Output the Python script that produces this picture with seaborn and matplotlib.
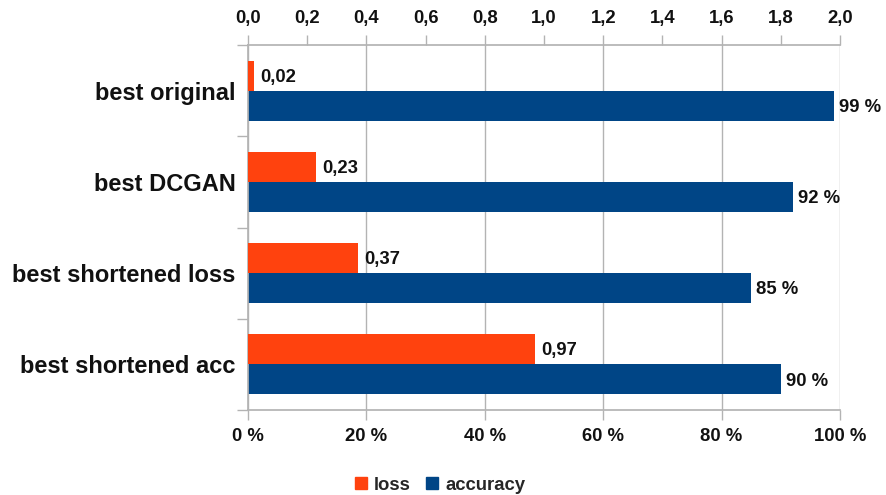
import matplotlib
matplotlib.use("Agg")
import matplotlib.pyplot as plt
import matplotlib.patches as mpatches
import numpy as np
import pandas as pd
import seaborn as sns

categories = ["best original", "best DCGAN", "best shortened loss", "best shortened acc"]
loss = [0.02, 0.23, 0.37, 0.97]
accuracy = [99, 92, 85, 90]
series = ["loss", "accuracy"]
loss_ticks = [0.0, 0.2, 0.4, 0.6, 0.8, 1.0, 1.2, 1.4, 1.6, 1.8, 2.0]
acc_ticks = [0, 20, 40, 60, 80, 100]

colors = {"loss": "#ff420e", "accuracy": "#004586"}
grid_grey = "#b3b3b3"
text_color = "#111111"
small = 13.3
big = 17

sns.set_theme(style="white")
plt.rcParams["font.family"] = ["Liberation Sans", "DejaVu Sans"]
plt.rcParams["font.weight"] = "bold"

df = pd.DataFrame({
    "category": categories * 2,
    "series": ["loss"] * len(categories) + ["accuracy"] * len(categories),
    "value": list(loss) + list(accuracy),
})
df_acc = df.copy()
df_acc.loc[df_acc["series"] == "loss", "value"] = np.nan
df_loss = df.copy()
df_loss.loc[df_loss["series"] == "accuracy", "value"] = np.nan

fig = plt.figure(figsize=(8.86, 4.95), dpi=100)
ax = fig.add_axes([248 / 886, 1 - 410 / 495, (840 - 248) / 886, (410 - 45) / 495])
ax2 = ax.twiny()

sns.barplot(data=df_acc, x="value", y="category", hue="series", hue_order=series,
            order=categories, palette=colors, width=0.66, orient="h",
            saturation=1, ax=ax, legend=False, linewidth=0)
sns.barplot(data=df_loss, x="value", y="category", hue="series", hue_order=series,
            order=categories, palette=colors, width=0.66, orient="h",
            saturation=1, ax=ax2, legend=False, linewidth=0)

ax.set_xlim(0, 100)
ax2.set_xlim(0, 2.0)
ax.set_ylim(3.5, -0.5)

# accuracy axis (bottom)
ax.set_xticks(acc_ticks)
ax.set_xticklabels([f"{t} %" for t in acc_ticks], fontsize=small, fontweight="bold")
ax.xaxis.grid(True, color=grid_grey, linewidth=1)
ax.set_axisbelow(True)
ax.tick_params(axis="x", bottom=True, direction="out", length=7, width=1,
               color=grid_grey, pad=6, labelcolor=text_color)

# loss axis (top)
ax2.set_xticks(loss_ticks)
ax2.set_xticklabels([f"{t:.1f}".replace(".", ",") for t in loss_ticks],
                    fontsize=small, fontweight="bold")
ax2.tick_params(axis="x", top=True, direction="out", length=7, width=1,
                color=grid_grey, pad=6, labelcolor=text_color)
ax2.grid(False)

# category axis: separators as major ticks, names as minor ticks
ax.set_yticks([-0.5, 0.5, 1.5, 2.5, 3.5])
ax.set_yticklabels([])
ax.set_yticks(range(len(categories)), minor=True)
ax.set_yticklabels(categories, minor=True, fontsize=big, fontweight="bold")
ax.tick_params(axis="y", which="major", left=True, direction="out", length=8,
               width=1, color=grid_grey)
ax.tick_params(axis="y", which="minor", left=True, length=0, pad=9,
               labelcolor=text_color)

ax.set_xlabel("")
ax.set_ylabel("")
ax2.set_xlabel("")
ax2.set_ylabel("")

for a in (ax, ax2):
    for s in a.spines.values():
        s.set_visible(False)
ax.spines["left"].set_visible(True)
ax.spines["left"].set_color(grid_grey)
ax.spines["bottom"].set_visible(True)
ax.spines["bottom"].set_color(grid_grey)
ax2.spines["top"].set_visible(True)
ax2.spines["top"].set_color(grid_grey)

# value labels beside each bar end
for i, v in enumerate(loss):
    ax2.annotate(f"{v:.2f}".replace(".", ","), xy=(v, i - 0.165), xytext=(4.5, -1.2),
                 textcoords="offset points", va="center", ha="left",
                 fontsize=small, fontweight="bold", color=text_color)
for i, v in enumerate(accuracy):
    ax.annotate(f"{v} %", xy=(v, i + 0.165), xytext=(3.5, -1.2),
                textcoords="offset points", va="center", ha="left",
                fontsize=small, fontweight="bold", color=text_color)

handles = [mpatches.Patch(color=colors[s], label=s) for s in series]
fig.legend(handles=handles, loc="center", bbox_to_anchor=(440 / 886, 1 - 485 / 495),
           ncol=2, frameon=False, handlelength=0.65, handleheight=0.65,
           handletextpad=0.4, columnspacing=0.8, borderpad=0,
           prop={"weight": "bold", "size": small})

fig.savefig("out.png", dpi=100, facecolor="white")
